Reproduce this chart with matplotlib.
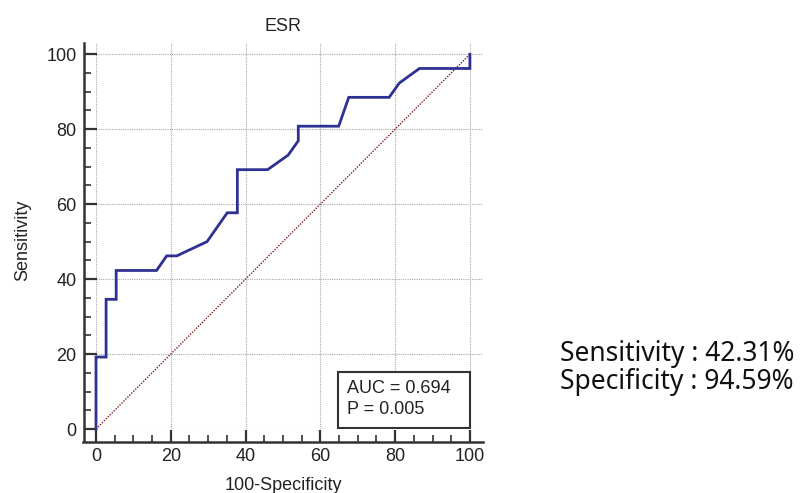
import matplotlib
matplotlib.use("Agg")
import matplotlib.pyplot as plt
from matplotlib.patches import Rectangle
from matplotlib.ticker import MultipleLocator

plt.rcParams["font.family"] = ["Liberation Sans", "DejaVu Sans"]

# ROC curve points (100-Specificity, Sensitivity)
fpr = [0, 0, 2.7, 2.7, 5.4, 5.4, 16.2, 18.9, 21.6, 29.7, 35.1, 37.8, 37.8,
       45.9, 51.4, 54.1, 54.1, 64.9, 67.6, 78.4, 81.1, 86.5, 100, 100]
tpr = [0, 19.2, 19.2, 34.6, 34.6, 42.3, 42.3, 46.2, 46.2, 50.0, 57.7, 57.7, 69.2,
       69.2, 73.1, 76.9, 80.8, 80.8, 88.5, 88.5, 92.3, 96.2, 96.2, 100]
ref_line = [0, 100]

title = "ESR"
x_label = "100-Specificity"
y_label = "Sensitivity"
auc_text = "AUC = 0.694"
p_text = "P = 0.005"
sens_text = "Sensitivity : 42.31%"
spec_text = "Specificity : 94.59%"

fig = plt.figure(figsize=(8.07, 4.93), dpi=100)
ax = fig.add_axes([96 / 807, 64 / 493, 387 / 807, 386 / 493])

ax.set_xlim(0, 103.5)
ax.set_ylim(0, 103)

ax.grid(True, which="major", color="#a8a8a8", linestyle=(0, (1, 1)), linewidth=0.8)
ax.set_axisbelow(True)

ax.plot(ref_line, ref_line, color="#7a1f1f", linestyle=(0, (1, 1)), linewidth=1.0,
        clip_on=False, zorder=2)
ax.plot(fpr, tpr, color="#2e3192", linewidth=2.0, clip_on=False, zorder=3,
        solid_joinstyle="miter")

# AUC box
ax.add_patch(Rectangle((64.7, 0.2), 35.3, 15.1, facecolor="white", edgecolor="#333333",
                       linewidth=1.5, zorder=4))
ax.text(67.2, 9.6, auc_text, fontsize=13, color="#222222", zorder=5)
ax.text(67.2, 4.0, p_text, fontsize=13, color="#222222", zorder=5)

# axes styling
for side in ["top", "right"]:
    ax.spines[side].set_visible(False)
for side in ["left", "bottom"]:
    ax.spines[side].set_position(("outward", 9))
    ax.spines[side].set_linewidth(1.8)
    ax.spines[side].set_color("#333333")
ax.spines["left"].set_bounds(-3.2, 103)
ax.spines["bottom"].set_bounds(-3.4, 103.5)

ax.xaxis.set_major_locator(MultipleLocator(20))
ax.yaxis.set_major_locator(MultipleLocator(20))
ax.xaxis.set_minor_locator(MultipleLocator(5))
ax.yaxis.set_minor_locator(MultipleLocator(5))
ax.tick_params(which="major", direction="in", length=9, width=1.6, color="#333333",
               labelsize=13, pad=5, labelcolor="#222222")
ax.tick_params(which="minor", direction="in", length=5, width=1.2, color="#333333")

fig.text(283 / 807, 1 - 30.7 / 493, title, ha="center", va="baseline", fontsize=13,
         color="#222222")
fig.text(283 / 807, 1 - 490 / 493, x_label, ha="center", va="baseline", fontsize=13,
         color="#222222")
fig.text(23 / 807, 1 - 240 / 493, y_label, ha="center", va="center", rotation=90,
         fontsize=13, color="#222222")

fig.text(560 / 807, 1 - 361 / 493, sens_text, ha="left", va="baseline",
         fontsize=19, family=["Noto Sans", "DejaVu Sans"], color="#111111")
fig.text(560 / 807, 1 - 389 / 493, spec_text, ha="left", va="baseline",
         fontsize=19, family=["Noto Sans", "DejaVu Sans"], color="#111111")

fig.savefig("out.png", dpi=100)
